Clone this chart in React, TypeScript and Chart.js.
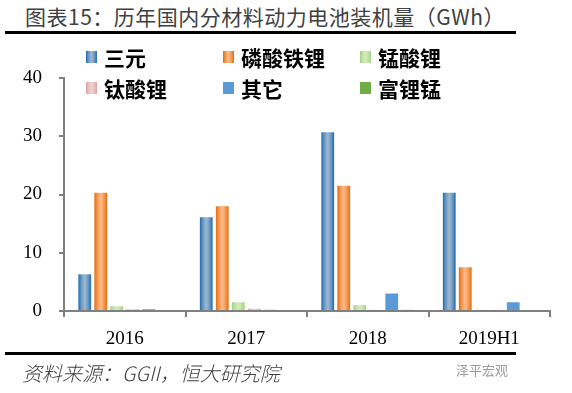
import React, { useEffect, useRef } from "react";
import { Chart, registerables } from "chart.js";

Chart.register(...registerables);

const categories = ["2016", "2017", "2018", "2019H1"];
const seriesNames = ["三元", "磷酸铁锂", "锰酸锂", "钛酸锂", "其它", "富锂锰"];
const sanyuan = [6.3, 16.1, 30.7, 20.3];
const lfp = [20.3, 18.0, 21.5, 7.5];
const lmo = [0.8, 1.5, 1.0, 0.2];
const lto = [0.3, 0.4, 0.2, 0.2];
const others = [0.3, 0.2, 3.0, 1.5];
const lirich = [0, 0, 0.2, 0];
const yTicks = [0, 10, 20, 30, 40];

const gradients: string[][] = [
  ["#1E6CB2", "#6E9AC3", "#9FB9CF", "#6E9AC3", "#1E6CB2"],
  ["#E46C0A", "#F49A55", "#FBBB8C", "#F49A55", "#E46C0A"],
  ["#A3CF85", "#C2E2A6", "#D3ECBE", "#C2E2A6", "#A3CF85"],
  ["#D9A0A0", "#E9C0C0", "#F2D2D2", "#E9C0C0", "#D9A0A0"],
  ["#5B9BD5", "#5B9BD5", "#5B9BD5", "#5B9BD5", "#5B9BD5"],
  ["#70AD47", "#70AD47", "#70AD47", "#70AD47", "#70AD47"],
];

function makeGrad(ctx: CanvasRenderingContext2D, x0: number, x1: number, idx: number) {
  const g = ctx.createLinearGradient(x0, 0, x1, 0);
  const stops = gradients[idx];
  stops.forEach((c, i) => g.addColorStop(i / (stops.length - 1), c));
  return g;
}

const gradientPlugin = {
  id: "barGradient",
  beforeDatasetsDraw(chart: any) {
    const ctx = chart.ctx;
    chart.data.datasets.forEach((_ds: any, i: number) => {
      const meta = chart.getDatasetMeta(i);
      meta.data.forEach((el: any) => {
        const { x, width } = el.getProps(["x", "width"], true);
        const g = makeGrad(ctx, x - width / 2, x + width / 2, i);
        el.options = { ...el.options, backgroundColor: g, $shared: false };
      });
    });
  },
};

const legendPlugin = {
  id: "gridLegend",
  afterDraw(chart: any) {
    const ctx = chart.ctx as CanvasRenderingContext2D;
    const colX = [86, 223, 360];
    const rowY = [57, 88];
    ctx.save();
    ctx.font = "bold 21px 'Noto Sans CJK SC'";
    ctx.textBaseline = "middle";
    ctx.textAlign = "left";
    seriesNames.forEach((name, i) => {
      const cx = colX[i % 3];
      const cy = rowY[Math.floor(i / 3)];
      ctx.fillStyle = makeGrad(ctx, cx, cx + 11, i);
      ctx.fillRect(cx, cy - 6, 11, 12);
      ctx.fillStyle = "#000000";
      ctx.fillText(name, cx + 18, cy + 1);
    });
    ctx.restore();
  },
};

export default function App() {
  const ref = useRef<HTMLCanvasElement | null>(null);
  useEffect(() => {
    if (!ref.current) return;
    const values = [sanyuan, lfp, lmo, lto, others, lirich];
    const chart = new Chart(ref.current, {
      type: "bar",
      data: {
        labels: categories,
        datasets: seriesNames.map((name, i) => ({
          label: name,
          data: values[i],
          backgroundColor: gradients[i][0],
          borderWidth: 0,
          categoryPercentage: 0.79,
          barPercentage: 0.8,
        })),
      },
      options: {
        responsive: false,
        animation: false,
        layout: { padding: { top: 78, right: 22, left: 0, bottom: 0 } },
        plugins: {
          legend: { display: false },
          tooltip: { enabled: false },
          title: { display: false },
        },
        scales: {
          x: {
            afterFit: (s: any) => {
              s.height = 82;
            },
            grid: {
              offset: true,
              drawOnChartArea: false,
              drawTicks: true,
              tickLength: 6,
              color: "#808080",
              lineWidth: 2,
            },
            border: { display: true, color: "#808080", width: 2 },
            ticks: {
              color: "#000000",
              font: { family: "'Liberation Serif'", size: 19 },
              padding: 11,
            },
          },
          y: {
            min: 0,
            max: 40,
            afterFit: (s: any) => {
              s.width = 64;
            },
            afterBuildTicks: (s: any) => {
              s.ticks = yTicks.map((v) => ({ value: v }));
            },
            grid: {
              drawOnChartArea: false,
              drawTicks: true,
              tickLength: 5,
              color: "#808080",
              lineWidth: 2,
            },
            border: { display: true, color: "#808080", width: 2 },
            ticks: {
              color: "#000000",
              font: { family: "'Liberation Serif'", size: 19 },
              padding: 17,
            },
          },
        },
      },
      plugins: [gradientPlugin, legendPlugin],
    });
    return () => chart.destroy();
  }, []);

  return (
    <div
      style={{
        position: "absolute",
        left: 0,
        top: 0,
        width: 572,
        height: 393,
        background: "#ffffff",
        overflow: "hidden",
      }}
    >
      <div
        style={{
          position: "absolute",
          left: 25,
          top: 2,
          fontFamily: "'Noto Sans CJK SC'",
          fontSize: 21,
          lineHeight: "28px",
          color: "#404040",
          whiteSpace: "nowrap",
          letterSpacing: 0.5,
        }}
      >
        图表15：历年国内分材料动力电池装机量（GWh）
      </div>
      <div
        style={{
          position: "absolute",
          left: 5,
          top: 31,
          width: 511,
          height: 3,
          background: "#000000",
        }}
      />
      <canvas
        ref={ref}
        width={572}
        height={393}
        style={{ position: "absolute", left: 0, top: 0, width: 572, height: 393 }}
      />
      <div
        style={{
          position: "absolute",
          left: 5,
          top: 352,
          width: 511,
          height: 3,
          background: "#000000",
        }}
      />
      <div
        style={{
          position: "absolute",
          left: 22,
          top: 359,
          fontFamily: "'Noto Sans CJK SC'",
          fontSize: 20,
          lineHeight: "28px",
          fontStyle: "italic",
          fontWeight: 300,
          color: "#404040",
          whiteSpace: "nowrap",
        }}
      >
        资料来源：GGII，恒大研究院
      </div>
      <div
        style={{
          position: "absolute",
          left: 456,
          top: 361,
          fontFamily: "'Noto Sans CJK SC'",
          fontSize: 13,
          lineHeight: "18px",
          color: "#9a9a9a",
          whiteSpace: "nowrap",
        }}
      >
        泽平宏观
      </div>
    </div>
  );
}
